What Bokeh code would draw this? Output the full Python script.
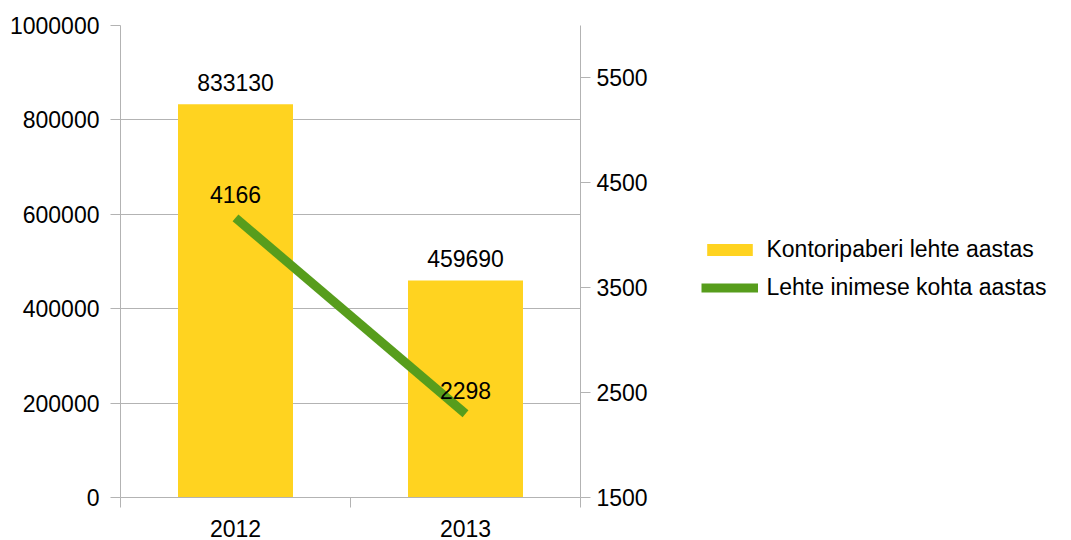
from bokeh.plotting import figure
from bokeh.models import (Range1d, LinearAxis, FixedTicker, Legend, LegendItem,
                          ColumnDataSource, BasicTickFormatter)
from bokeh.embed import file_html
from bokeh.resources import INLINE
from bokeh.core.properties import value

# ---- data ----
years = ["2012", "2013"]
sheets_per_year = [833130, 459690]
sheets_per_person = [4166, 2298]
left_ticks = [0, 200000, 400000, 600000, 800000, 1000000]
right_ticks = [1500, 2500, 3500, 4500, 5500]
series_names = ["Kontoripaberi lehte aastas", "Lehte inimese kohta aastas"]

FONT = "Liberation Sans"
FS = "23px"
GRAY = "#b3b3b3"
BAR_COLOR = "#ffd320"
LINE_COLOR = "#579d1c"

xs = [i + 0.5 for i in range(len(years))]
src = ColumnDataSource(dict(
    x=xs,
    bars=sheets_per_year,
    person=sheets_per_person,
    bar_lbl=[str(v) for v in sheets_per_year],
    person_lbl=[str(v) for v in sheets_per_person],
))

p = figure(frame_width=460, frame_height=472,
           x_range=Range1d(0, len(years)), y_range=Range1d(0, 1000000),
           output_backend="svg", toolbar_location=None,
           min_border_left=120, min_border_top=25, min_border_right=480,
           min_border_bottom=43)
p.extra_y_ranges = {"right": Range1d(1500, 6000)}
p.outline_line_color = None
p.background_fill_color = "white"
p.border_fill_color = "white"

# bottom axis
xa = p.xaxis[0]
xa.ticker = FixedTicker(ticks=xs, minor_ticks=list(range(len(years) + 1)))
xa.major_label_overrides = {x: y for x, y in zip(xs, years)}
xa.major_tick_out = 0
xa.major_tick_in = 0
xa.minor_tick_out = 10
xa.minor_tick_in = 0
xa.minor_tick_line_color = GRAY
xa.axis_line_color = GRAY
xa.major_label_standoff = 12
xa.major_label_text_font = FONT
xa.major_label_text_font_size = FS
xa.major_label_text_color = "black"

# left axis
ya = p.yaxis[0]
ya.ticker = FixedTicker(ticks=left_ticks)
ya.formatter = BasicTickFormatter(use_scientific=False)
ya.major_tick_out = 10
ya.major_tick_in = 0
ya.minor_tick_out = 0
ya.minor_tick_in = 0
ya.major_tick_line_color = GRAY
ya.axis_line_color = GRAY
ya.major_label_standoff = 11
ya.major_label_text_font = FONT
ya.major_label_text_font_size = FS
ya.major_label_text_color = "black"

# right axis
ra = LinearAxis(y_range_name="right", ticker=FixedTicker(ticks=right_ticks),
                formatter=BasicTickFormatter(use_scientific=False))
ra.major_tick_out = 10
ra.major_tick_in = 0
ra.minor_tick_out = 0
ra.minor_tick_in = 0
ra.major_tick_line_color = GRAY
ra.axis_line_color = GRAY
ra.major_label_standoff = 6
ra.major_label_text_font = FONT
ra.major_label_text_font_size = FS
ra.major_label_text_color = "black"
p.add_layout(ra, "right")

p.xgrid.visible = False
p.ygrid.ticker = FixedTicker(ticks=left_ticks)
p.ygrid.grid_line_color = GRAY

bars = p.vbar(x="x", top="bars", width=0.5, source=src,
              fill_color=BAR_COLOR, line_color=None)
line = p.line(x="x", y="person", source=src, y_range_name="right",
              line_width=9, line_color=LINE_COLOR)

p.text(x="x", y="bars", text="bar_lbl", source=src, text_align="center",
       text_baseline="alphabetic", y_offset=-22,
       text_font=value(FONT), text_font_size=value(FS), text_color="black")
p.text(x="x", y="person", text="person_lbl", source=src, y_range_name="right",
       text_align="center", text_baseline="alphabetic", y_offset=-23,
       text_font=value(FONT), text_font_size=value(FS), text_color="black")

legend = Legend(items=[LegendItem(label=series_names[0], renderers=[bars]),
                       LegendItem(label=series_names[1], renderers=[line])],
                location=(-170, 196))
legend.border_line_color = None
legend.background_fill_alpha = 0
legend.padding = 0
legend.margin = 0
legend.spacing = 11
legend.glyph_width = 57
legend.glyph_height = 15
legend.label_standoff = 8
legend.label_text_font = FONT
legend.label_text_font_size = FS
legend.label_text_color = "black"
p.add_layout(legend, "right")

open("out.html", "w").write(file_html(p, INLINE))
